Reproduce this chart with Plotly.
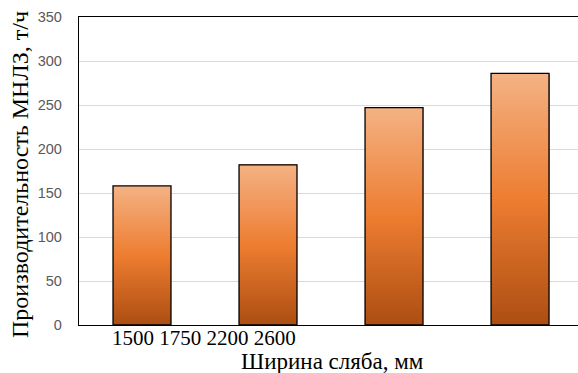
import plotly.graph_objects as go

# Slab widths (mm) and CCM productivity (t/h)
categories = ["1500", "1750", "2200", "2600"]
values = [158, 182, 247, 286]
y_ticks = [0, 50, 100, 150, 200, 250, 300, 350]

y_title = "Производительность МНЛЗ, т/ч"
x_title = "Ширина сляба, мм"

# vertical gradient stops: bottom -> middle -> top
grad_stops = [(0.0, (172, 78, 18)), (0.5, (237, 125, 49)), (1.0, (244, 178, 132))]
N_SEG = 60


def grad_color(t):
    for (t0, c0), (t1, c1) in zip(grad_stops[:-1], grad_stops[1:]):
        if t0 <= t <= t1:
            f = (t - t0) / (t1 - t0)
            r, g, b = (round(a + (b_ - a) * f) for a, b_ in zip(c0, c1))
            return f"rgb({r},{g},{b})"
    return "rgb(%d,%d,%d)" % grad_stops[-1][1]


fig = go.Figure()

# gradient fill: each layer runs from its base to the bar top and is
# painted over the previous one, so no seams appear between layers
for k in range(N_SEG):
    t = (k + 0.5) / N_SEG
    fig.add_trace(go.Bar(
        x=categories,
        y=[v * (1 - k / N_SEG) for v in values],
        base=[v * k / N_SEG for v in values],
        marker=dict(color=grad_color(t), line=dict(width=0)),
        hoverinfo="skip",
        showlegend=False,
    ))

# outline of each bar
fig.add_trace(go.Bar(
    x=categories,
    y=values,
    marker=dict(color="rgba(0,0,0,0)", line=dict(color="#000000", width=1.3)),
    showlegend=False,
))

# value labels above the bars
for c, v in zip(categories, values):
    fig.add_annotation(
        x=c, y=v, xref="x", yref="y", text=str(v), showarrow=False,
        yanchor="bottom", yshift=5,
        font=dict(family="Liberation Sans, Arial", size=15, color="#404040"),
    )

# category labels as one line of text under the axis
fig.add_annotation(
    xref="paper", yref="paper", x=(110 - 79) / 499, y=0,
    xanchor="left", yanchor="top", yshift=1,
    text=" ".join(categories), showarrow=False,
    font=dict(family="Liberation Serif, Times New Roman", size=21, color="#000000"),
)

# axis titles
fig.add_annotation(
    xref="paper", yref="paper", x=(332 - 79) / 499, y=0,
    xanchor="center", yanchor="middle", yshift=-36,
    text=x_title, showarrow=False,
    font=dict(family="Liberation Serif, Times New Roman", size=23, color="#000000"),
)
fig.add_annotation(
    xref="paper", yref="paper", x=(20 - 79) / 499, y=(325 - 175) / 308,
    xanchor="center", yanchor="middle", textangle=-90,
    text=y_title, showarrow=False,
    font=dict(family="Liberation Serif, Times New Roman", size=24, color="#000000"),
)

fig.update_layout(
    width=578, height=373,
    margin=dict(l=79, r=0, t=17, b=48),
    paper_bgcolor="white", plot_bgcolor="white",
    barmode="overlay", bargap=0.54,
    xaxis=dict(
        range=[-0.5, 3.46], showticklabels=False, ticks="",
        showgrid=False, showline=True, linecolor="#000000", linewidth=1.3,
        mirror=True, zeroline=False,
    ),
    yaxis=dict(
        range=[0, 350], tickvals=y_ticks, ticks="",
        showgrid=True, gridcolor="#D9D9D9", gridwidth=1,
        showline=True, linecolor="#000000", linewidth=1.3,
        zeroline=False, ticklabelstandoff=13,
        tickfont=dict(family="Liberation Sans, Arial", size=14.5, color="#595959"),
    ),
)

fig.write_html("out.html")
